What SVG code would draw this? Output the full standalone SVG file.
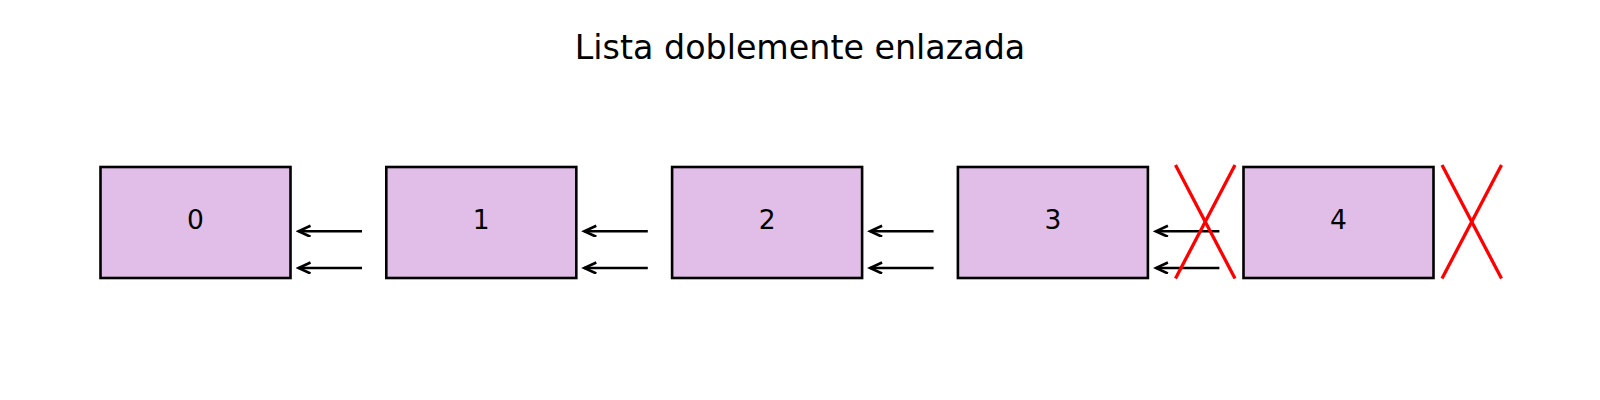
<svg xmlns="http://www.w3.org/2000/svg" width="1600" height="400" viewBox="0 0 1600 400">
<style>
.box{fill:#e1bee7;stroke:#000;stroke-width:2.6}
.lbl{font-family:"DejaVu Sans",sans-serif;font-size:26.5px;text-anchor:middle;fill:#000}
.arr{stroke:#000;stroke-width:2.6;fill:none;stroke-linecap:butt}
.x{stroke:#ff0000;stroke-width:3.3;fill:none}
</style>
<defs>
<marker id="ah" markerWidth="16" markerHeight="14" refX="13" refY="6" orient="auto" markerUnits="userSpaceOnUse">
<path d="M1,0.5 L13,6 L1,11.5" fill="none" stroke="#000" stroke-width="2.6"/>
</marker>
</defs>
<rect width="1600" height="400" fill="#fff"/>
<text x="800" y="58.5" font-family="DejaVu Sans, sans-serif" font-size="33.3" text-anchor="middle">Lista doblemente enlazada</text>
<g id="node0"><rect class="box" x="100.5" y="167" width="190" height="111"/><text class="lbl" x="195.5" y="229.3">0</text></g>
<g id="node1"><rect class="box" x="386.3" y="167" width="190" height="111"/><text class="lbl" x="481.3" y="229.3">1</text></g>
<g id="node2"><rect class="box" x="672.1" y="167" width="190" height="111"/><text class="lbl" x="767.1" y="229.3">2</text></g>
<g id="node3"><rect class="box" x="957.9" y="167" width="190" height="111"/><text class="lbl" x="1052.9" y="229.3">3</text></g>
<g id="node4"><rect class="box" x="1243.5" y="167" width="190" height="111"/><text class="lbl" x="1338.5" y="229.3">4</text></g>
<g id="connectors">
<line class="arr" x1="362" y1="231.3" x2="298.5" y2="231.3" marker-end="url(#ah)"/>
<line class="arr" x1="362" y1="268" x2="298.5" y2="268" marker-end="url(#ah)"/>
<line class="arr" x1="647.8" y1="231.3" x2="584.3" y2="231.3" marker-end="url(#ah)"/>
<line class="arr" x1="647.8" y1="268" x2="584.3" y2="268" marker-end="url(#ah)"/>
<line class="arr" x1="933.6" y1="231.3" x2="870.1" y2="231.3" marker-end="url(#ah)"/>
<line class="arr" x1="933.6" y1="268" x2="870.1" y2="268" marker-end="url(#ah)"/>
<line class="arr" x1="1219.4" y1="231.3" x2="1155.9" y2="231.3" marker-end="url(#ah)"/>
<line class="arr" x1="1219.4" y1="268" x2="1155.9" y2="268" marker-end="url(#ah)"/>
</g>
<g id="cross1"><line class="x" x1="1175.5" y1="165" x2="1235" y2="278.5"/><line class="x" x1="1175.5" y1="278.5" x2="1235" y2="165"/></g>
<g id="cross2"><line class="x" x1="1442" y1="165" x2="1501.5" y2="278.5"/><line class="x" x1="1442" y1="278.5" x2="1501.5" y2="165"/></g>
</svg>
